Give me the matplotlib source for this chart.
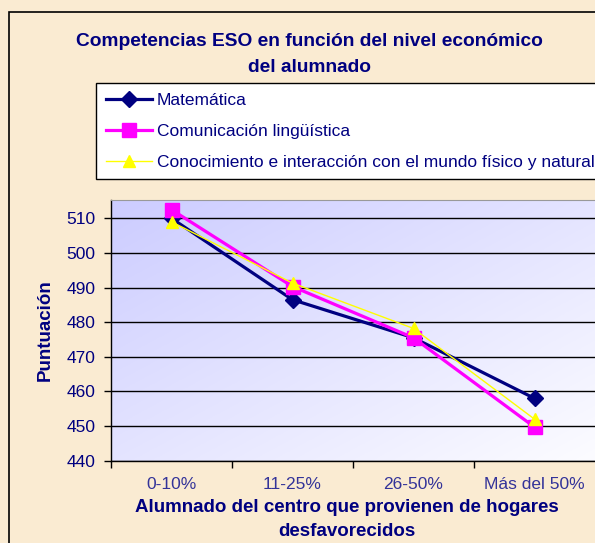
import numpy as np
import matplotlib
matplotlib.use('Agg')
import matplotlib.pyplot as plt
from matplotlib.patches import Rectangle

plt.rcParams['font.family'] = ['Liberation Sans', 'DejaVu Sans']

# Data
categories = ['0-10%', '11-25%', '26-50%', 'Más del 50%']
matematica = [510, 486.5, 475.5, 458]
comunicacion = [512.5, 490.3, 475.5, 449.7]
conocimiento = [509, 491.3, 478.2, 452]
series_names = ['Matemática', 'Comunicación lingüística',
                'Conocimiento e interacción con el mundo físico y natural']
yticks = [440, 450, 460, 470, 480, 490, 500, 510]

navy = '#000080'

fig = plt.figure(figsize=(5.95, 5.43), dpi=100)
fig.patch.set_facecolor('#FAEBD2')

# outer chart border
fig.patches.append(Rectangle((8.5 / 595, -0.1), 2, 1 - 12.5 / 543 + 0.1,
                             transform=fig.transFigure, fill=False,
                             edgecolor='black', linewidth=1.2, zorder=0))

ax = fig.add_axes([111 / 595, (543 - 460.7) / 543, 484 / 595, 260.7 / 543])

# diagonal lavender (top-left) to white (bottom-right) gradient
gx, gy = np.meshgrid(np.linspace(0, 1, 200), np.linspace(0, 1, 200))
g = (gx + gy) / 2
c0 = np.array([204, 204, 255]) / 255
c1 = np.array([252, 252, 255]) / 255
img = c0[None, None, :] * (1 - g[..., None]) + c1[None, None, :] * g[..., None]
ax.imshow(img, extent=[0, 1, 0, 1], transform=ax.transAxes, origin='upper',
          aspect='auto', zorder=0)

x = np.arange(len(categories))
ax.plot(x, matematica, color=navy, lw=2.3, marker='D', ms=8.5,
        mfc=navy, mec=navy, label=series_names[0], zorder=3)
ax.plot(x, comunicacion, color='#FF00FF', lw=2.3, marker='s', ms=10.5,
        mfc='#FF00FF', mec='#FF00FF', label=series_names[1], zorder=4)
ax.plot(x, conocimiento, color='#FFFF00', lw=1.0, marker='^', ms=9,
        mfc='#FFFF00', mec='#FFFF00', label=series_names[2], zorder=5)

ax.set_xlim(-0.5, 3.5)
ax.set_ylim(440, 515.3)
ax.set_yticks(yticks)
ax.set_yticklabels([str(v) for v in yticks], fontsize=12.5, color=navy)
ax.yaxis.grid(True, color='black', lw=1.0)
ax.set_axisbelow(True)

ax.set_xticks([-0.5, 0.5, 1.5, 2.5])
ax.set_xticklabels([])
ax.set_xticks(x, minor=True)
ax.set_xticklabels(categories, minor=True, fontsize=12.5, color='#333399')
ax.tick_params(axis='x', which='minor', length=0, pad=12)
ax.tick_params(axis='x', which='major', length=5, width=1)
ax.tick_params(axis='y', length=5, width=1, pad=6)

for s in ['left', 'bottom']:
    ax.spines[s].set_color('black')
    ax.spines[s].set_linewidth(1.0)
ax.spines['top'].set_color('#999999')
ax.spines['right'].set_visible(False)

# titles and axis labels
fig.text(309 / 595, 1 - 42 / 543, 'Competencias ESO en función del nivel económico',
         ha='center', va='center', fontsize=13.8, fontweight='bold', color=navy)
fig.text(309 / 595, 1 - 67 / 543, 'del alumnado',
         ha='center', va='center', fontsize=13.8, fontweight='bold', color=navy)
fig.text(45.5 / 595, 1 - 330 / 543, 'Puntuación', rotation=90,
         ha='center', va='center', fontsize=13.5, fontweight='bold', color=navy)
fig.text(347 / 595, 1 - 508 / 543, 'Alumnado del centro que provienen de hogares',
         ha='center', va='center', fontsize=13.5, fontweight='bold', color=navy)
fig.text(347 / 595, 1 - 532 / 543, 'desfavorecidos',
         ha='center', va='center', fontsize=13.5, fontweight='bold', color=navy)

leg = fig.legend(loc='upper left', bbox_to_anchor=(96 / 595, 1 - 83 / 543),
                 fontsize=12.5, frameon=True, fancybox=False, framealpha=1,
                 edgecolor='black', handlelength=2.65, handletextpad=0.3,
                 labelspacing=0.92, borderpad=0.55, borderaxespad=0)
leg.get_frame().set_linewidth(1.0)
for t in leg.get_texts():
    t.set_color(navy)

fig.savefig('out.png', dpi=100, facecolor=fig.get_facecolor())
